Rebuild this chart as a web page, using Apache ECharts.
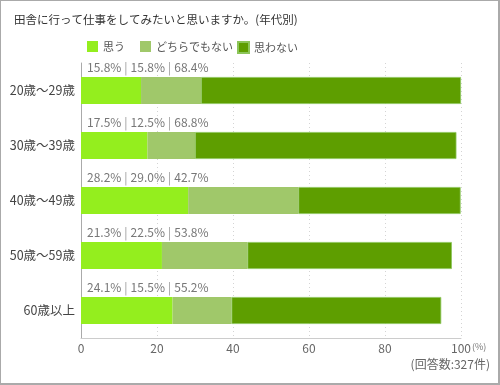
<!DOCTYPE html>
<html><head><meta charset="utf-8">
<script src="https://cdn.jsdelivr.net/npm/echarts@6/dist/echarts.min.js"></script>
<style>
html,body{margin:0;padding:0;background:#fff;}
#wrap{position:relative;width:500px;height:385px;}
#c{position:absolute;left:0;top:0;width:500px;height:385px;}
#b{position:absolute;left:0;top:0;width:500px;height:385px;box-sizing:border-box;border:1px solid #aaa;border-right:2px solid #aaa;border-bottom:2px solid #aaa;pointer-events:none;}
</style></head>
<body><div id="wrap"><div id="c"></div><div id="b"></div></div>
<script>
const categories = ['20歳〜29歳','30歳〜39歳','40歳〜49歳','50歳〜59歳','60歳以上'];
const seriesNames = ['思う','どちらでもない','思わない'];
const omou = [15.8, 17.5, 28.2, 21.3, 24.1];
const dochira = [15.8, 12.5, 29.0, 22.5, 15.5];
const omowanai = [68.4, 68.8, 42.7, 53.8, 55.2];
const xTicks = [0, 20, 40, 60, 80, 100];
const colors = ['#94ee1e', '#a0c86a', '#5e9e00'];
const font = '"Noto Sans CJK JP", "Noto Sans", sans-serif';

const chart = echarts.init(document.getElementById('c'), null, {renderer:'canvas'});
const fmt = v => v.toFixed(1) + '%';
const legends = [82, 135, 232].map((l, i) => ({
  left: l, top: 36, itemWidth: 11, itemHeight: 11, itemGap: 0,
  icon: 'rect', data: [seriesNames[i]],
  textStyle: {color: '#555', fontSize: 11, fontFamily: font}
}));
const option = {
  animation: false,
  textStyle: {fontFamily: font},
  title: {text: '田舎に行って仕事をしてみたいと思いますか。(年代別)', left: 9, top: 9,
    textStyle: {fontSize: 11.5, fontWeight: 'normal', color: '#333', fontFamily: font}},
  legend: legends,
  graphic: [
    {type: 'text', left: 472, top: 342, style: {text: '(%)', fontSize: 9, fill: '#777', fontFamily: font}},
    {type: 'text', right: 10, top: 358, style: {text: '(回答数:327件)', fontSize: 12, fill: '#666', fontFamily: font}}
  ],
  grid: {left: 81, right: 39, top: 63, bottom: 47},
  xAxis: {
    type: 'value', min: 0, max: 100, interval: 20,
    axisLine: {show: true, lineStyle: {color: '#ccc'}},
    axisTick: {show: false},
    axisLabel: {color: '#666', fontSize: 12, margin: 4, fontFamily: font,
      formatter: v => xTicks.includes(v) ? String(v) : ''},
    splitLine: {show: true, lineStyle: {color: '#d4d4d4', type: [1, 3]}}
  },
  yAxis: {
    type: 'category', data: categories, inverse: true,
    axisLine: {show: true, lineStyle: {color: '#aaa'}},
    axisTick: {show: false},
    axisLabel: {color: '#444', fontSize: 12.5, margin: 6, fontFamily: font}
  },
  series: [
    {name: seriesNames[0], type: 'bar', stack: 'a', data: omou, barWidth: 27,
      itemStyle: {color: colors[0]},
      label: {show: true, position: [6, -10], align: 'left', verticalAlign: 'middle',
        color: '#777', fontSize: 12, fontFamily: font,
        rich: {
          n: {color: '#777', fontSize: 12, fontFamily: font},
          s: {color: '#999', fontSize: 12, fontFamily: font, padding: [0, 3]}
        },
        formatter: p => '{n|' + fmt(omou[p.dataIndex]) + '}{s||}{n|' + fmt(dochira[p.dataIndex]) + '}{s||}{n|' + fmt(omowanai[p.dataIndex]) + '}'}},
    {name: seriesNames[1], type: 'bar', stack: 'a', data: dochira, barWidth: 27,
      itemStyle: {color: colors[1]}},
    {name: seriesNames[2], type: 'bar', stack: 'a', data: omowanai, barWidth: 27,
      itemStyle: {color: colors[2], borderColor: '#8cc55a', borderWidth: 0.8}}
  ]
};
chart.setOption(option);
</script></body></html>
